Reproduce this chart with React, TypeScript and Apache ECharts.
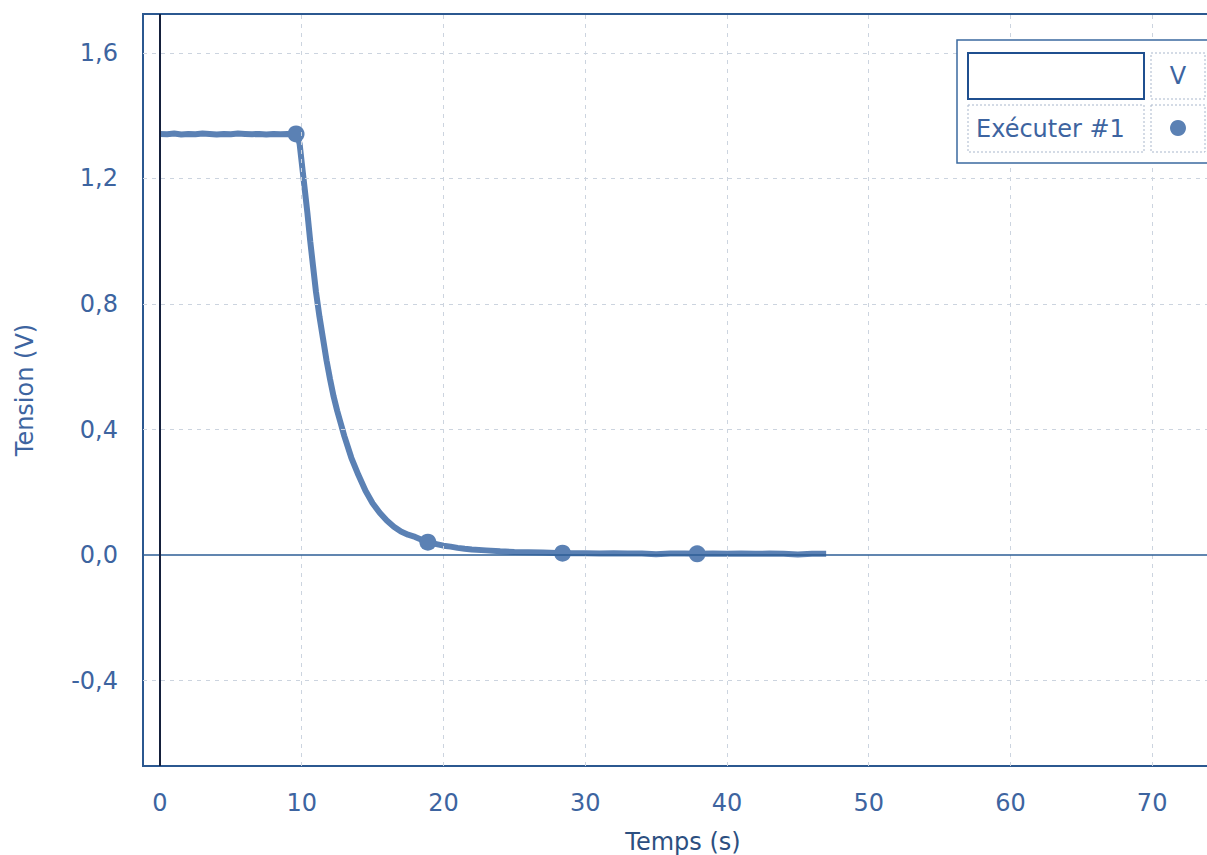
import React, { useEffect, useRef } from "react";
import * as echarts from "echarts";

// ---- data ----
const times: number[] = [
  0, 0.5, 1, 1.5, 2, 2.5, 3, 3.5, 4, 4.5, 5, 5.5, 6, 6.5, 7, 7.5, 8, 8.5, 9, 9.4, 9.7,
  9.85, 10.0, 10.2, 10.4, 10.6, 10.8, 11.0, 11.25, 11.5, 11.75, 12.0, 12.25, 12.5, 12.75,
  13.0, 13.5, 14.0, 14.5, 15.0, 15.5, 16.0, 16.5, 17.0, 17.5, 18.0, 18.5, 19.0, 19.5,
  20, 20.5, 21, 21.5, 22, 23, 24, 25, 26, 27, 28, 29, 30, 31, 32, 33, 34, 35, 36, 37,
  38, 39, 40, 41, 42, 43, 44, 45, 46, 47,
];
const volts: number[] = [
  1.342, 1.341, 1.343, 1.340, 1.342, 1.341, 1.343, 1.342, 1.340, 1.342, 1.341, 1.343, 1.342, 1.341, 1.342, 1.340, 1.342, 1.341, 1.342, 1.341, 1.338,
  1.31, 1.25, 1.17, 1.09, 1.00, 0.92, 0.84, 0.76, 0.69, 0.62, 0.56, 0.505, 0.46, 0.42,
  0.38, 0.31, 0.255, 0.205, 0.165, 0.135, 0.11, 0.09, 0.075, 0.065, 0.058, 0.048, 0.04, 0.035,
  0.03, 0.027, 0.023, 0.02, 0.018, 0.015, 0.012, 0.01, 0.009, 0.008, 0.007, 0.006, 0.006, 0.005, 0.006, 0.005, 0.005, 0.003, 0.005, 0.005,
  0.004, 0.005, 0.004, 0.005, 0.004, 0.005, 0.004, 0.002, 0.004, 0.004,
];
const markerTimes: number[] = [9.6, 18.9, 28.4, 37.9];
const markerVolts: number[] = [1.342, 0.041, 0.006, 0.004];

const xTickLabels: number[] = [0, 10, 20, 30, 40, 50, 60, 70];
const yTickLabels: number[] = [-0.4, 0.0, 0.4, 0.8, 1.2, 1.6];
const xGridLines: number[] = [10, 20, 30, 40, 50, 60, 70];
const yGridLines: number[] = [-0.4, 0.4, 0.8, 1.2, 1.6];

const xTitle = "Temps (s)";
const yTitle = "Tension (V)";
const seriesName = "Exécuter #1";
const unitLabel = "V";

const FONT = "DejaVu Sans";
const TEXT = "#3d64a0";
const CURVE = "#5b81b4";

export default function App() {
  const ref = useRef<HTMLDivElement>(null);

  useEffect(() => {
    if (!ref.current) return;
    const chart = echarts.init(ref.current, undefined, { renderer: "svg" });
    const pts = times.map((t, i) => [t, volts[i]]);
    const marks = markerTimes.map((t, i) => [t, markerVolts[i]]);

    chart.setOption({
      animation: false,
      backgroundColor: "#ffffff",
      grid: {
        left: 143,
        top: 14,
        width: 1080,
        height: 752,
        show: true,
        borderColor: "#2b5890",
        borderWidth: 2,
        backgroundColor: "transparent",
        containLabel: false,
        outerBoundsMode: "none",
      },
      xAxis: {
        type: "value",
        min: -1.2,
        max: 75,
        splitLine: { show: false },
        axisLine: { show: false },
        axisTick: { show: false },
        axisLabel: {
          customValues: xTickLabels,
          color: TEXT,
          fontFamily: FONT,
          fontSize: 24,
          margin: 25,
        },
        name: xTitle,
        nameLocation: "middle",
        nameGap: 64,
        nameTextStyle: { color: "#2c4f80", fontFamily: FONT, fontSize: 24 },
      },
      yAxis: {
        type: "value",
        min: -0.672,
        max: 1.724,
        splitLine: { show: false },
        axisLine: { show: false },
        axisTick: { show: false },
        axisLabel: {
          customValues: yTickLabels,
          color: TEXT,
          fontFamily: FONT,
          fontSize: 24,
          margin: 25,
          formatter: (v: number) => v.toFixed(1).replace(".", ","),
        },
        name: yTitle,
        nameLocation: "middle",
        nameGap: 106,
        nameRotate: 90,
        nameTextStyle: { color: TEXT, fontFamily: FONT, fontSize: 24 },
      },
      series: [
        {
          type: "line",
          name: "grid",
          data: [],
          silent: true,
          z: 1,
          markLine: {
            silent: true,
            symbol: "none",
            label: { show: false },
            lineStyle: { color: "#ccd4df", width: 1, type: [4, 5] },
            data: [
              ...xGridLines.map((x) => ({ xAxis: x })),
              ...yGridLines.map((y) => ({ yAxis: y })),
            ],
          },
        },
        {
          type: "line",
          name: "axes0",
          data: [],
          silent: true,
          z: 2,
          markLine: {
            silent: true,
            symbol: "none",
            label: { show: false },
            data: [
              { yAxis: 0, lineStyle: { color: "#2c5e96", width: 1.5, type: "solid" } },
              { xAxis: 0, lineStyle: { color: "#15203c", width: 2, type: "solid" } },
            ],
          },
        },
        {
          type: "line",
          name: seriesName,
          data: pts,
          showSymbol: false,
          symbol: "none",
          lineStyle: { color: CURVE, width: 6 },
          z: 3,
        },
        {
          type: "scatter",
          name: "markers",
          data: marks,
          symbol: "circle",
          symbolSize: 17,
          itemStyle: { color: CURVE, opacity: 1 },
          z: 4,
        },
      ],
      graphic: [
        {
          type: "rect",
          shape: { x: 957, y: 40, width: 262, height: 123 },
          style: { fill: "#ffffff", stroke: "#3b6aa0", lineWidth: 1.5 },
          z: 100,
        },
        {
          type: "rect",
          shape: { x: 968, y: 53, width: 176, height: 46 },
          style: { fill: "#ffffff", stroke: "#1f4f8f", lineWidth: 2 },
          z: 101,
        },
        {
          type: "rect",
          shape: { x: 1151, y: 53, width: 54, height: 46 },
          style: { fill: "#ffffff", stroke: "#a9b7cc", lineWidth: 1, lineDash: [2, 2] },
          z: 101,
        },
        {
          type: "text",
          x: 1178,
          y: 76,
          style: {
            text: unitLabel,
            fill: TEXT,
            font: `24px "${FONT}"`,
            align: "center",
            verticalAlign: "middle",
          },
          z: 102,
        },
        {
          type: "rect",
          shape: { x: 968, y: 105, width: 176, height: 47 },
          style: { fill: "#ffffff", stroke: "#a9b7cc", lineWidth: 1, lineDash: [2, 2] },
          z: 101,
        },
        {
          type: "text",
          x: 976,
          y: 129,
          style: {
            text: seriesName,
            fill: TEXT,
            font: `24px "${FONT}"`,
            align: "left",
            verticalAlign: "middle",
          },
          z: 102,
        },
        {
          type: "rect",
          shape: { x: 1151, y: 105, width: 54, height: 47 },
          style: { fill: "#ffffff", stroke: "#a9b7cc", lineWidth: 1, lineDash: [2, 2] },
          z: 101,
        },
        {
          type: "circle",
          shape: { cx: 1178, cy: 128, r: 8 },
          style: { fill: CURVE },
          z: 102,
        },
      ],
    });

    return () => chart.dispose();
  }, []);

  return (
    <div
      ref={ref}
      style={{ position: "absolute", left: 0, top: 0, width: 1207, height: 855 }}
    />
  );
}
